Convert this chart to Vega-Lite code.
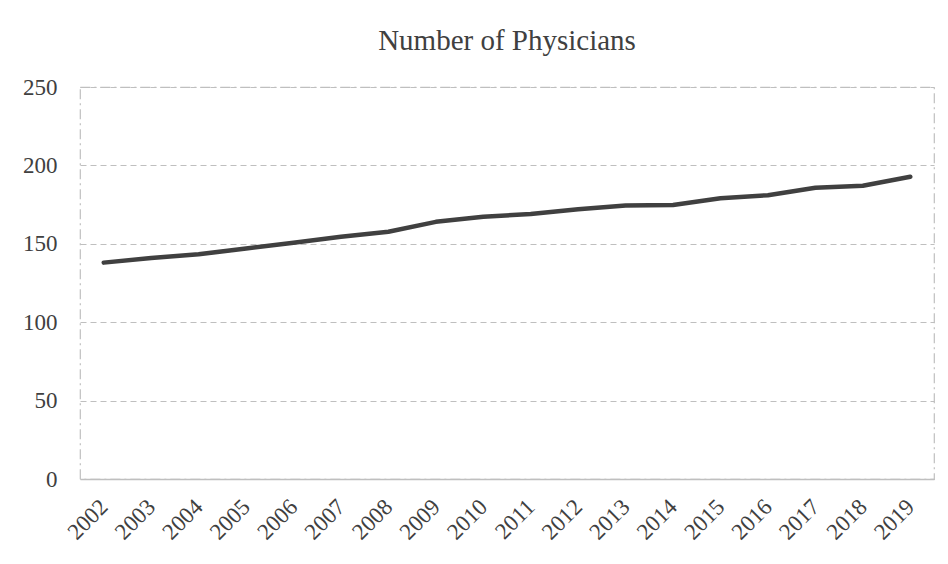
{
  "$schema": "https://vega.github.io/schema/vega-lite/v6.json",
  "autosize": "none",
  "padding": {"left": 80, "top": 87, "right": 14, "bottom": 85},
  "width": 854,
  "height": 392,
  "background": "white",
  "title": {
    "text": "Number of Physicians",
    "font": "Liberation Serif",
    "fontSize": 29,
    "fontWeight": "normal",
    "color": "#404040",
    "anchor": "middle",
    "offset": 20
  },
  "data": {
    "values": [
      {"year": "2002", "physicians": 138},
      {"year": "2003", "physicians": 141},
      {"year": "2004", "physicians": 143.3},
      {"year": "2005", "physicians": 147},
      {"year": "2006", "physicians": 150.7},
      {"year": "2007", "physicians": 154.5},
      {"year": "2008", "physicians": 157.7},
      {"year": "2009", "physicians": 164},
      {"year": "2010", "physicians": 167.2},
      {"year": "2011", "physicians": 169},
      {"year": "2012", "physicians": 172},
      {"year": "2013", "physicians": 174.4},
      {"year": "2014", "physicians": 174.8},
      {"year": "2015", "physicians": 179},
      {"year": "2016", "physicians": 181},
      {"year": "2017", "physicians": 185.8},
      {"year": "2018", "physicians": 187},
      {"year": "2019", "physicians": 192.8}
    ]
  },
  "mark": {"type": "line", "color": "#404040", "strokeWidth": 4.5, "strokeCap": "round", "strokeJoin": "round"},
  "encoding": {
    "x": {
      "field": "year",
      "type": "ordinal",
      "scale": {"paddingInner": 0, "paddingOuter": 0.5},
      "axis": {
        "title": null,
        "labelAngle": -45,
        "labelAlign": "right",
        "labelBaseline": "middle",
        "labelFont": "Liberation Serif",
        "labelFontSize": 23,
        "labelColor": "#404040",
        "labelPadding": 24,
        "ticks": false,
        "grid": false,
        "domainColor": "#bfbfbf",
        "domainWidth": 1.5
      }
    },
    "y": {
      "field": "physicians",
      "type": "quantitative",
      "scale": {"domain": [0, 250], "nice": false},
      "axis": {
        "title": null,
        "values": [0, 50, 100, 150, 200, 250],
        "labelFont": "Liberation Serif",
        "labelFontSize": 23,
        "labelColor": "#404040",
        "labelPadding": 23,
        "ticks": false,
        "domain": false,
        "grid": true,
        "gridColor": "#bfbfbf",
        "gridDash": [6, 4],
        "gridWidth": 1.2
      }
    }
  },
  "config": {
    "view": {"stroke": "#bfbfbf", "strokeDash": [10, 4, 2, 4], "strokeWidth": 1.2}
  }
}
